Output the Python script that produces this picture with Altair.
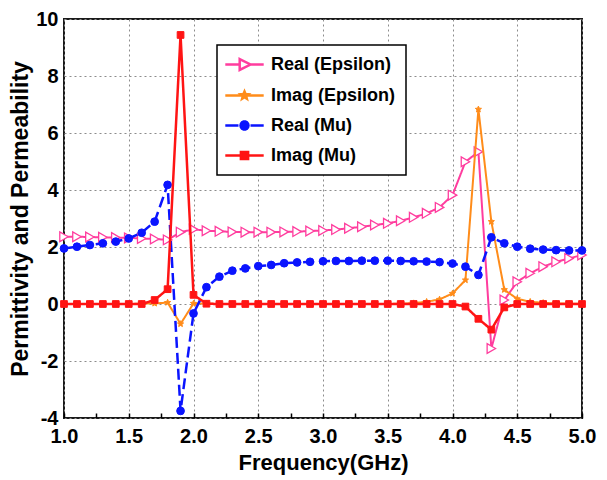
import math
import altair as alt
import pandas as pd

# ---------------- data ----------------
freq = [1.0, 1.1, 1.2, 1.3, 1.4, 1.5, 1.6, 1.7, 1.8, 1.9,
        2.0, 2.1, 2.2, 2.3, 2.4, 2.5, 2.6, 2.7, 2.8, 2.9,
        3.0, 3.1, 3.2, 3.3, 3.4, 3.5, 3.6, 3.7, 3.8, 3.9,
        4.0, 4.1, 4.2, 4.3, 4.4, 4.5, 4.6, 4.7, 4.8, 4.9, 5.0]

real_eps = [2.36, 2.36, 2.35, 2.34, 2.33, 2.32, 2.30, 2.28, 2.25, 2.52,
            2.62, 2.57, 2.55, 2.53, 2.52, 2.52, 2.52, 2.53, 2.54, 2.56,
            2.58, 2.61, 2.66, 2.71, 2.77, 2.83, 2.92, 3.04, 3.18, 3.39,
            3.82, 4.99, 5.34, -1.56, 0.14, 0.78, 1.08, 1.31, 1.48, 1.60, 1.72]

imag_eps = [0.0, 0.0, 0.0, 0.0, 0.0, 0.0, 0.01, 0.02, 0.05, -0.70,
            0.02, 0.01, 0.0, 0.0, 0.0, 0.0, 0.0, 0.0, 0.0, 0.0,
            0.0, 0.0, 0.0, 0.0, 0.0, 0.0, 0.01, 0.03, 0.08, 0.16,
            0.37, 0.84, 6.83, 2.89, 0.50, 0.18, 0.08, 0.04, 0.02, 0.01, 0.01]

real_mu = [1.95, 2.01, 2.07, 2.13, 2.19, 2.30, 2.50, 2.89, 4.18, -3.75,
           -0.33, 0.59, 0.96, 1.17, 1.25, 1.33, 1.37, 1.43, 1.46, 1.48,
           1.50, 1.51, 1.51, 1.52, 1.52, 1.52, 1.51, 1.50, 1.49, 1.47,
           1.42, 1.31, 1.02, 2.34, 2.13, 2.01, 1.94, 1.91, 1.89, 1.88, 1.88]

imag_mu = [0.0, 0.0, 0.0, 0.0, 0.0, 0.0, 0.0, 0.14, 0.52, 9.44,
           0.32, 0.01, 0.0, 0.0, 0.0, 0.0, 0.0, 0.0, 0.0, 0.0,
           0.0, 0.0, 0.0, 0.0, 0.0, 0.0, 0.0, 0.0, 0.0, 0.0,
           0.0, -0.09, -0.52, -0.90, -0.12, 0.0, 0.0, 0.0, 0.0, 0.0, 0.0]

series_names = ["Real (Epsilon)", "Imag (Epsilon)", "Real (Mu)", "Imag (Mu)"]

x_major = [1.0, 1.5, 2.0, 2.5, 3.0, 3.5, 4.0, 4.5, 5.0]
x_minor = [1.0, 1.25, 1.5, 1.75, 2.0, 2.25, 2.5, 2.75, 3.0, 3.25, 3.5,
           3.75, 4.0, 4.25, 4.5, 4.75, 5.0]
y_major = [-4, -2, 0, 2, 4, 6, 8, 10]

df = pd.DataFrame({
    "freq": freq * 4,
    "value": real_eps + imag_eps + real_mu + imag_mu,
    "series": [s for s in series_names for _ in freq],
})

# ---------------- styles ----------------
FONT = "Liberation Sans"
PINK, ORANGE, BLUE, RED = "#ff3d9e", "#ff8c1a", "#0a14ff", "#ff1414"


def star(r_out, r_in, cx=0.0):
    pts = []
    for k in range(10):
        a = -math.pi / 2 + k * math.pi / 5
        r = r_out if k % 2 == 0 else r_in
        pts.append(f"{cx + r * math.cos(a):.3f},{r * math.sin(a):.3f}")
    return "M" + "L".join(pts) + "Z"


def polygon(r, n=14):
    pts = []
    for k in range(n):
        a = 2 * math.pi * k / n
        pts.append(f"{r * math.cos(a):.3f},{r * math.sin(a):.3f}")
    return "M" + "L".join(pts) + "Z"


styles = {
    "Real (Epsilon)": dict(color=PINK, width=2.0, dash=[1, 0], shape="triangle-right",
                           size=95, fill="white", msw=1.3,
                           legend="M-2.4,0L-0.6,0M0.75,0L2.4,0M-0.6,-0.68L0.75,0L-0.6,0.68Z"),
    "Imag (Epsilon)": dict(color=ORANGE, width=2.0, dash=[1, 0], shape=star(1, 0.45),
                           size=42, fill=ORANGE, msw=1.0,
                           legend="M-2.4,0L2.4,0" + star(0.5, 0.22)),
    "Real (Mu)": dict(color=BLUE, width=2.5, dash=[11, 5], shape="circle",
                      size=60, fill=BLUE, msw=1.0,
                      legend="M-2.4,0L-0.75,0M0.75,0L2.4,0" + polygon(0.5)),
    "Imag (Mu)": dict(color=RED, width=2.5, dash=[1, 0], shape="square",
                      size=45, fill=RED, msw=1.0,
                      legend="M-2.4,0L2.4,0M-0.45,-0.45L0.45,-0.45L0.45,0.45L-0.45,0.45Z"),
}

x_scale = alt.Scale(domain=[1, 5], nice=False, zero=False)
y_scale = alt.Scale(domain=[-4, 10], nice=False, zero=False)

x_axis = alt.Axis(values=x_major, format=".1f", title="Frequency(GHz)",
                  labelFont=FONT, labelFontSize=20, labelFontWeight="bold",
                  labelColor="black", labelPadding=8, labelFlush=False,
                  ticks=False, tickSize=0, domain=False,
                  grid=True, gridColor="#8c8c8c", gridDash=[2, 3], gridWidth=1,
                  titleFont=FONT, titleFontSize=22, titleFontWeight="bold",
                  titleColor="black", titlePadding=6)
y_axis = alt.Axis(values=y_major, labelExpr="'' + datum.value",
                  title="Permittivity and Permeability",
                  labelFont=FONT, labelFontSize=20, labelFontWeight="bold",
                  labelColor="black", labelPadding=6, labelFlush=False,
                  ticks=False, tickSize=0, domain=False,
                  grid=True, gridColor="#8c8c8c", gridDash=[2, 3], gridWidth=1,
                  titleFont=FONT, titleFontSize=23, titleFontWeight="bold",
                  titleColor="black", titlePadding=3)

layers = []
for name in series_names:
    st = styles[name]
    base = alt.Chart(df).transform_filter(alt.datum.series == name)
    line = base.mark_line(color=st["color"], strokeWidth=st["width"],
                          strokeDash=st["dash"]).encode(
        x=alt.X("freq:Q", scale=x_scale, axis=x_axis),
        y=alt.Y("value:Q", scale=y_scale, axis=y_axis),
        order="freq:Q",
    )
    pts = base.mark_point(shape=st["shape"], size=st["size"], filled=True,
                          fill=st["fill"], stroke=st["color"],
                          strokeWidth=st["msw"], opacity=1).encode(
        x=alt.X("freq:Q", scale=x_scale, axis=x_axis),
        y=alt.Y("value:Q", scale=y_scale, axis=y_axis),
    )
    layers += [line, pts]

main = alt.layer(*layers)

leg = alt.Legend(title=None, orient="none", legendX=153, legendY=26,
                 padding=10, strokeColor="black", fillColor="white",
                 labelFont=FONT, labelFontSize=18, labelFontWeight="bold",
                 labelColor="black", symbolSize=256, symbolStrokeWidth=2.5,
                 symbolOffset=8, labelOffset=17, rowPadding=11,
                 symbolOpacity=1, labelLimit=300)

tick_axis = alt.Axis(orient="top", offset=-399, values=x_minor, labels=False,
                     domain=False, grid=False, ticks=True, tickSize=5,
                     tickWidth=1.5, tickColor="black", title=None)

dummy = alt.Chart(df).transform_filter("datum.freq > 100").mark_point(
    filled=True, opacity=1).encode(
    x=alt.X("freq:Q", scale=x_scale, axis=tick_axis),
    shape=alt.Shape("series:N", scale=alt.Scale(domain=series_names,
                    range=[styles[s]["legend"] for s in series_names]), legend=leg),
    fill=alt.Fill("series:N", scale=alt.Scale(domain=series_names,
                  range=[styles[s]["fill"] for s in series_names]), legend=leg),
    stroke=alt.Stroke("series:N", scale=alt.Scale(domain=series_names,
                      range=[styles[s]["color"] for s in series_names]), legend=leg),
)

chart = alt.layer(main, dummy).resolve_axis(x="independent").properties(
    width=518, height=399,
    autosize=alt.AutoSizeParams(type="none"),
    padding={"left": 64, "top": 19, "right": 25, "bottom": 62},
    background="white",
).configure_view(stroke="#1a1a1a", strokeWidth=2).configure_legend(strokeWidth=1.5)

chart.save("out.html", embed_options={"renderer": "svg", "actions": False})
